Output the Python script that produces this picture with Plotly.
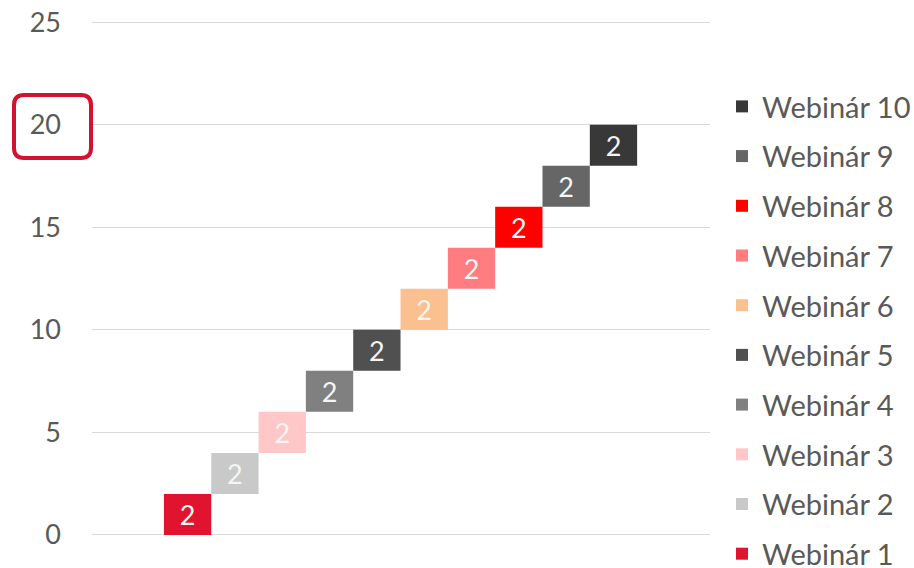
import plotly.graph_objects as go

# ---- data ----
categories = ["Webinár 1", "Webinár 2", "Webinár 3", "Webinár 4", "Webinár 5",
              "Webinár 6", "Webinár 7", "Webinár 8", "Webinár 9", "Webinár 10"]
values = [2, 2, 2, 2, 2, 2, 2, 2, 2, 2]
colors = ["#E0142F", "#C9C9C9", "#FFC7C7", "#808080", "#505050",
          "#FAC090", "#FF7C80", "#FF0000", "#666666", "#383838"]
y_ticks = [0, 5, 10, 15, 20, 25]

# invisible offset for each floating bar = sum of the previous values
bases = []
running = 0
for v in values:
    bases.append(running)
    running += v

FONT = "Lato, 'Open Sans', sans-serif"
FS = 27
LFS = 29

W, H = 914, 568
unit = 513 / 25.0
pad = 0.1
plot_left, plot_right = 92, 710
plot_top = 22 - pad * unit
plot_bot = 535 + pad * unit

L = plot_left
R = W - plot_right
T = plot_top
B = H - plot_bot
pw = plot_right - plot_left
ph = plot_bot - plot_top


def px(x):
    return (x - plot_left) / pw


def py(y):
    return (plot_bot - y) / ph


fig = go.Figure()
for i, (name, v, b, c) in enumerate(zip(categories, values, bases, colors)):
    fig.add_trace(go.Bar(
        x=[name], y=[v], base=[b], name=name,
        marker=dict(color=c, line=dict(width=0)),
        width=1,
        text=[str(v)], textposition="inside", insidetextanchor="middle",
        textfont=dict(color="#F5F5F5", size=FS, family=FONT),
        constraintext="none",
        legendgroup=name, legendrank=1000 - i,
        hoverinfo="name+y",
    ))

fig.update_layout(
    width=W, height=H,
    margin=dict(l=L, r=R, t=T, b=B, pad=0, autoexpand=False),
    plot_bgcolor="white", paper_bgcolor="white",
    barmode="overlay",
    showlegend=True,
    font=dict(family=FONT, color="#595959", size=FS),
    xaxis=dict(
        type="category", range=[-2.02, 11.04],
        showgrid=False, showticklabels=False, zeroline=False, showline=False,
        ticks="",
    ),
    yaxis=dict(
        range=[-pad, 25 + pad], tickvals=y_ticks, showgrid=True,
        gridcolor="#D9D9D9", gridwidth=1, zeroline=False, showline=False,
        ticks="", ticklabeloverflow="allow",
        tickfont=dict(size=FS, color="#595959", family=FONT),
        ticklabelstandoff=30,
    ),
    legend=dict(
        x=px(722), xanchor="left", y=py(81), yanchor="top",
        traceorder="grouped", tracegroupgap=9,
        font=dict(size=LFS, color="#595959", family=FONT),
        bgcolor="rgba(0,0,0,0)",
    ),
)

# rounded red highlight box around the "20" tick label
x0, x1, y0, y1, r = 14, 91, 95, 158, 10
path = (
    f"M {px(x0 + r)},{py(y0)} L {px(x1 - r)},{py(y0)} "
    f"Q {px(x1)},{py(y0)} {px(x1)},{py(y0 + r)} L {px(x1)},{py(y1 - r)} "
    f"Q {px(x1)},{py(y1)} {px(x1 - r)},{py(y1)} L {px(x0 + r)},{py(y1)} "
    f"Q {px(x0)},{py(y1)} {px(x0)},{py(y1 - r)} L {px(x0)},{py(y0 + r)} "
    f"Q {px(x0)},{py(y0)} {px(x0 + r)},{py(y0)} Z"
)
fig.add_shape(type="path", path=path, xref="paper", yref="paper",
              line=dict(color="#D3122F", width=4), fillcolor="rgba(0,0,0,0)",
              layer="above")

fig.write_html(
    "out.html",
    config={"displayModeBar": False},
    post_script="document.body.style.margin='0';document.body.style.overflow='hidden';",
)
